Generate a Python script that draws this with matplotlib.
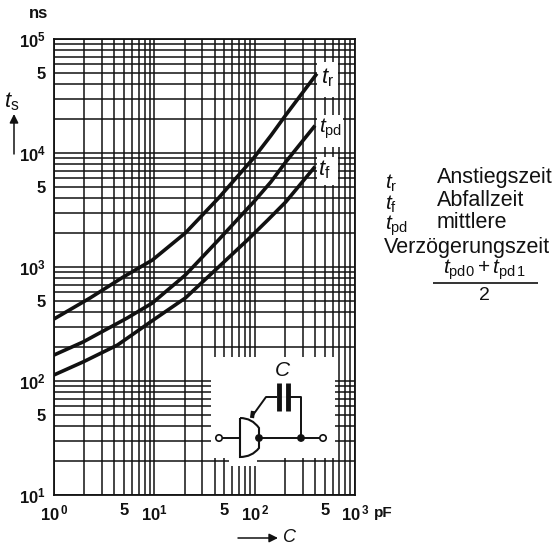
import matplotlib
matplotlib.use("Agg")
import matplotlib.pyplot as plt
from matplotlib.patches import Rectangle, Circle, PathPatch
from matplotlib.path import Path
from matplotlib.transforms import Affine2D

plt.rcParams['font.family'] = ['Liberation Sans', 'DejaVu Sans']
plt.rcParams['mathtext.fontset'] = 'custom'
plt.rcParams['mathtext.rm'] = 'Liberation Sans'
plt.rcParams['mathtext.it'] = 'Liberation Sans:italic'
plt.rcParams['mathtext.bf'] = 'Liberation Sans:bold'
plt.rcParams['mathtext.default'] = 'regular'

# (pF, ns)
C_tr = [1, 2.29, 4.9, 9.55, 20.4, 43.7, 97.7, 145, 204, 407]
t_r = [350, 535, 817, 1150, 1990, 4030, 9040, 14200, 21500, 48300]
C_tpd = [1, 1.95, 5.37, 9.55, 20.4, 43.7, 97.7, 145, 204, 389]
t_pd = [169, 220, 357, 483, 851, 1730, 3720, 5570, 8340, 16900]
C_tf = [1, 1.95, 4.3, 9.77, 20.4, 43.7, 85, 135, 204, 389]
t_f = [113, 147, 207, 343, 535, 1000, 1730, 2580, 3720, 7380]

x_ticks = [1, 5, 10, 50, 100, 500, 1000]
x_labels = ['$\\mathbf{10^{\\,0}}$', '5', '$\\mathbf{10^{1}}$', '5', '$\\mathbf{10^{\\,2}}$', '5', '$\\mathbf{10^{\\,3}}$']
y_ticks = [10, 50, 100, 500, 1000, 5000, 10000, 50000, 100000]
y_labels = ['$\\mathbf{10^{1}}$', '5', '$\\mathbf{10^{2}}$', '5', '$\\mathbf{10^{3}}$', '5', '$\\mathbf{10^{4}}$', '5', '$\\mathbf{10^{5}}$']

ink = '#111111'

fig = plt.figure(figsize=(5.54, 5.47), dpi=100)
ax = fig.add_axes([54/554, 1-495/547, 301/554, 456/547])
# everything that is not data is placed in image pixels
pixel = Affine2D().scale(1/554, -1/547).translate(0, 1) + fig.transFigure

ax.set_xscale('log')
ax.set_yscale('log')
ax.set_xlim(1, 1000)
ax.set_ylim(10, 100000)
ax.set_xticks(x_ticks)
ax.set_xticklabels(x_labels, fontsize=12, color=ink, fontweight='bold')
ax.set_yticks(y_ticks)
ax.set_yticklabels(y_labels, fontsize=12, color=ink, fontweight='bold')
ax.minorticks_off()
ax.set_xticks([a*b for b in (1, 10, 100) for a in range(2, 10)], minor=True)
ax.set_yticks([a*b for b in (10, 100, 1000, 10000) for a in range(2, 10)], minor=True)
ax.tick_params(which='both', length=0, labelleft=True)
ax.tick_params(which='minor', labelbottom=False, labelleft=False)
ax.tick_params(axis='x', pad=6)
ax.tick_params(axis='y', pad=6)
ax.set_axisbelow(True)
ax.grid(which='both', color=ink, linewidth=1.1)
for s in ax.spines.values():
    s.set_linewidth(1.3)
    s.set_color(ink)

# white areas cut out of the grid
for x0, y0, x1, y1 in [(211, 357, 335, 458), (229, 357, 257, 466),
                       (317, 62, 338, 97), (317, 115, 343, 147), (317, 157, 338, 185)]:
    ax.add_patch(Rectangle((x0, y0), x1-x0, y1-y0, transform=pixel, fc='white', ec='none', zorder=1.5))

ax.plot(C_tr, t_r, color=ink, lw=2.6, zorder=3)
ax.plot(C_tpd, t_pd, color=ink, lw=2.6, zorder=3)
ax.plot(C_tf, t_f, color=ink, lw=2.6, zorder=3)


def txt(x, y, s, size=13, **kw):
    kw.setdefault('va', 'center')
    ax.text(x, y, s, transform=pixel, fontsize=size, color=ink, clip_on=False, zorder=5, **kw)


def wire(xs, ys, lw=1.4):
    ax.plot(xs, ys, transform=pixel, color=ink, lw=lw, clip_on=False, zorder=4, solid_capstyle='butt')


# curve labels
txt(321, 78, '$\\mathit{t}_{r}$', 16)
txt(319, 129, '$\\mathit{t}_{pd}$', 15)
txt(318, 170, '$\\mathit{t}_{f}$', 16)

# axis labels
txt(29, 13, 'ns', 12, fontweight='bold')
txt(4, 102, '$\\mathit{t}_{s}$', 16)
ax.annotate('', xy=(14, 114), xytext=(14, 154), xycoords=pixel, textcoords=pixel,
            arrowprops=dict(arrowstyle='-|>', color=ink, lw=1.1, mutation_scale=13, shrinkA=0, shrinkB=0))
txt(374, 513, 'pF', 11, fontweight='bold')
ax.annotate('', xy=(278, 538), xytext=(238, 538), xycoords=pixel, textcoords=pixel,
            arrowprops=dict(arrowstyle='-|>', color=ink, lw=1.1, mutation_scale=13, shrinkA=0, shrinkB=0))
txt(282, 538, '$\\mathit{C}$', 13)

# legend text on the right
txt(385, 183, '$\\mathit{t}_{r}$', 15)
txt(437, 178, 'Anstiegszeit', 15.5)
txt(385, 204, '$\\mathit{t}_{f}$', 15)
txt(437, 200, 'Abfallzeit', 15.5)
txt(385, 226, '$\\mathit{t}_{pd}$', 15)
txt(437, 222, 'mittlere', 15.5)
txt(384, 247, 'Verzögerungszeit', 15.5)
txt(485, 270, '$\\mathit{t}_{pd0}+\\mathit{t}_{pd\\,1}$', 15, ha='center')
wire([433, 538], [283, 283], 1.2)
txt(484, 296, '2', 14, ha='center')

# circuit inset
txt(283, 370, '$\\mathit{C}$', 15, ha='center')
wire([223, 240], [438, 438])
wire([259, 319], [438, 438])
wire([301, 301, 288], [438, 397, 397])
wire([277, 266, 253], [397, 397, 415])
wire([279, 279], [383, 411], 3.5)
wire([288, 288], [383, 411], 3.5)
wire([279, 288], [397, 397], 0.1)
wire([253, 252], [411, 418], 3.0)
gate = Path([(240, 418), (252, 418), (259, 428), (259, 438), (259, 448), (252, 457), (240, 457), (240, 418)],
            [Path.MOVETO, Path.CURVE3, Path.CURVE3, Path.CURVE3, Path.CURVE3, Path.CURVE3, Path.CURVE3, Path.LINETO])
ax.add_patch(PathPatch(gate, transform=pixel, fc='white', ec=ink, lw=1.5, clip_on=False, zorder=4))
for cx in (259, 301):
    ax.add_patch(Circle((cx, 438), 3.2, transform=pixel, fc=ink, ec=ink, clip_on=False, zorder=5))
for cx in (219, 323):
    ax.add_patch(Circle((cx, 438), 3.2, transform=pixel, fc='white', ec=ink, lw=1.2, clip_on=False, zorder=5))

fig.savefig('out.png', dpi=100)
